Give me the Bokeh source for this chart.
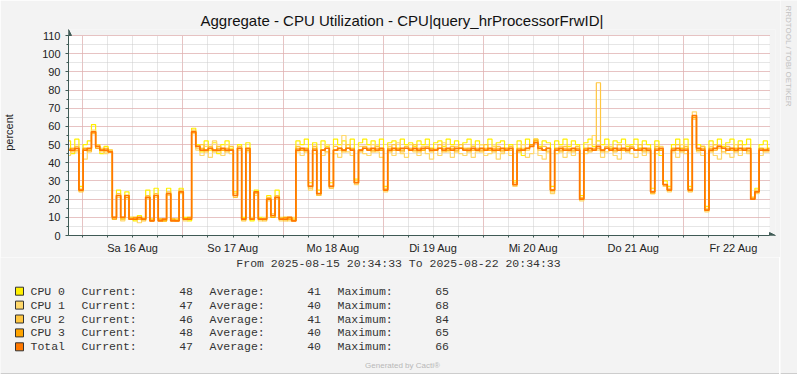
import math
from bokeh.plotting import figure
from bokeh.layouts import row, column
from bokeh.models import Range1d, FixedTicker, Arrow, NormalHead, BoxAnnotation, Grid
from bokeh.core.properties import value
from bokeh.embed import file_html
from bokeh.resources import INLINE

# ---------------- data (hourly samples, hour 0 = 2025-08-15 20:34:33) ----------------
hours = list(range(169))

cpu0 = [
    52, 45, 53, 27, 50, 52, 61, 50, 45, 49, 47, 10, 25, 9, 24, 10, 8, 11, 9, 25, 9, 26, 9, 8,
    26, 9, 9, 26, 10, 8, 59, 50, 46, 52, 47, 51, 45, 50, 52, 48, 24, 50, 10, 51, 8, 25, 10, 9,
    22, 10, 25, 9, 10, 9, 9, 52, 50, 53, 29, 51, 25, 52, 49, 29, 53, 50, 52, 48, 53, 31, 51, 53,
    50, 52, 49, 53, 27, 51, 52, 48, 53, 50, 51, 49, 52, 50, 53, 48, 51, 52, 49, 53, 50, 52, 48, 51,
    53, 49, 52, 50, 47, 53, 49, 51, 52, 48, 50, 30, 52, 44, 53, 50, 53, 49, 52, 51, 27, 52, 50, 53,
    49, 52, 50, 22, 51, 53, 49, 52, 50, 53, 48, 52, 51, 53, 49, 50, 53, 48, 52, 50, 26, 52, 44, 30,
    27, 50, 53, 48, 53, 27, 65, 50, 49, 16, 52, 50, 53, 49, 51, 53, 48, 52, 50, 53, 21, 26, 50, 52,
    48]

cpu1 = [
    44, 48, 46, 26, 42, 47, 58, 48, 46, 45, 47, 9, 21, 8, 20, 9, 10, 7, 10, 20, 8, 21, 9, 8,
    22, 9, 8, 23, 8, 10, 56, 47, 44, 49, 43, 52, 46, 44, 50, 45, 23, 47, 9, 46, 10, 22, 8, 10,
    19, 12, 20, 8, 9, 8, 10, 46, 44, 48, 25, 45, 22, 44, 50, 26, 45, 43, 55, 46, 44, 28, 49, 45,
    44, 50, 46, 43, 24, 49, 44, 51, 45, 43, 50, 46, 44, 49, 45, 42, 48, 44, 51, 46, 43, 49, 45, 44,
    48, 43, 46, 50, 44, 45, 49, 42, 45, 48, 44, 27, 46, 50, 43, 45, 52, 44, 42, 47, 23, 45, 49, 43,
    46, 44, 48, 19, 45, 50, 55, 47, 43, 46, 49, 44, 42, 47, 50, 45, 43, 48, 44, 46, 23, 45, 49, 27,
    24, 46, 43, 50, 45, 26, 68, 46, 44, 13, 49, 44, 42, 48, 45, 43, 50, 44, 47, 45, 21, 23, 44, 48,
    47]

cpu2 = [
    48, 46, 49, 24, 48, 46, 56, 50, 48, 46, 47, 10, 23, 9, 22, 10, 9, 9, 8, 22, 9, 23, 8, 9,
    24, 8, 9, 25, 9, 9, 58, 48, 50, 46, 49, 46, 49, 47, 46, 49, 21, 49, 8, 47, 9, 23, 9, 8,
    21, 11, 22, 10, 8, 10, 9, 49, 47, 46, 26, 49, 22, 47, 46, 26, 49, 47, 46, 50, 47, 30, 46, 49,
    47, 46, 49, 47, 26, 46, 50, 47, 46, 49, 47, 50, 46, 47, 49, 46, 47, 50, 46, 47, 49, 46, 50, 47,
    46, 49, 47, 46, 50, 47, 46, 49, 46, 47, 49, 29, 46, 48, 47, 50, 53, 47, 49, 46, 24, 48, 46, 49,
    47, 46, 49, 21, 48, 46, 47, 84, 46, 49, 47, 46, 50, 47, 46, 49, 47, 50, 46, 48, 23, 49, 47, 28,
    26, 48, 50, 46, 49, 24, 64, 47, 49, 15, 46, 50, 48, 46, 49, 47, 46, 50, 48, 46, 21, 25, 48, 46,
    46]

cpu3 = [
    47, 48, 47, 25, 48, 47, 57, 48, 47, 48, 46, 9, 22, 10, 21, 9, 10, 9, 9, 21, 8, 22, 9, 8,
    23, 9, 8, 24, 9, 10, 57, 49, 48, 47, 48, 47, 48, 47, 48, 47, 22, 48, 9, 47, 9, 24, 9, 9,
    20, 10, 21, 9, 10, 9, 8, 48, 47, 48, 27, 48, 23, 47, 48, 27, 47, 48, 47, 48, 48, 29, 47, 48,
    48, 47, 48, 47, 25, 48, 47, 48, 47, 48, 48, 47, 48, 47, 48, 48, 47, 48, 48, 47, 48, 47, 48, 48,
    48, 47, 48, 47, 48, 47, 48, 48, 47, 48, 47, 28, 48, 47, 48, 50, 52, 48, 47, 48, 25, 48, 47, 48,
    48, 47, 48, 20, 48, 47, 48, 48, 47, 48, 48, 47, 48, 47, 48, 48, 47, 48, 47, 48, 24, 48, 47, 28,
    25, 48, 47, 48, 48, 25, 65, 47, 48, 14, 48, 47, 49, 48, 48, 47, 48, 47, 48, 47, 20, 24, 48, 47,
    48]

total = [
    47, 47, 48, 25, 47, 48, 57, 49, 47, 47, 46, 10, 22, 10, 22, 9, 9, 10, 9, 21, 8, 22, 8, 9,
    23, 8, 8, 24, 9, 9, 57, 49, 47, 47, 48, 47, 47, 48, 47, 47, 22, 48, 9, 48, 9, 24, 9, 9,
    20, 11, 21, 9, 9, 10, 8, 47, 48, 47, 27, 47, 23, 47, 48, 27, 47, 48, 47, 48, 47, 29, 47, 48,
    47, 48, 47, 48, 25, 47, 48, 47, 48, 48, 47, 48, 47, 48, 48, 47, 47, 48, 47, 48, 47, 48, 48, 47,
    47, 48, 47, 48, 47, 48, 47, 47, 48, 47, 48, 28, 47, 47, 48, 49, 51, 48, 47, 48, 25, 47, 48, 47,
    47, 48, 47, 20, 47, 48, 47, 49, 47, 48, 47, 48, 47, 48, 47, 48, 47, 47, 48, 47, 24, 47, 48, 28,
    25, 47, 48, 47, 47, 25, 66, 48, 47, 14, 47, 48, 49, 48, 47, 48, 47, 48, 47, 48, 20, 24, 47, 47,
    47]

series_names = ["CPU 0", "CPU 1", "CPU 2", "CPU 3", "Total"]
series_colors = ["#FFF000", "#FFD86B", "#FFC640", "#FFA400", "#FF7800"]
current_vals = [48, 47, 46, 48, 47]
average_vals = [41, 40, 41, 40, 40]
maximum_vals = [65, 68, 84, 65, 66]

y_ticks = list(range(0, 111, 10))
y_minor = list(range(0, 111, 5))
day_labels = ["Sa 16 Aug", "So 17 Aug", "Mo 18 Aug", "Di 19 Aug", "Mi 20 Aug", "Do 21 Aug", "Fr 22 Aug"]
first_midnight = 3 + 25 / 60 + 27 / 3600  # hours from start to 16 Aug 00:00
midnights = [first_midnight + 24 * k for k in range(7)]
six_hours = [first_midnight + 6 * k for k in range(28)]
noons = [first_midnight + 12 + 24 * k for k in range(7)]

title_text = "Aggregate - CPU Utilization - CPU|query_hrProcessorFrwID|"
footer_text = "From 2025-08-15 20:34:33 To 2025-08-22 20:34:33"
side_text = "RRDTOOL / TOBI OETIKER"
credit_text = "Generated by Cacti\u00ae"

# ---------------- styling ----------------
AX = "#3f5a55"
BG = "#f3f3f3"
SANS = "Liberation Sans"
MONO = "Liberation Mono"
TXT = "#333333"

W_MAIN = 779
H_CHART = 257
W_SIDE = 797 - W_MAIN
H_ALL = 374

X_END, Y_END = 168, 110
EXT_R, EXT_T = 6, 6            # room for the axis arrow heads (px)
FW, FH = 701 + EXT_R, 200 + EXT_T

# ---------------- chart ----------------
p = figure(frame_width=FW, frame_height=FH,
           min_border_left=67, min_border_right=W_MAIN - 67 - FW, min_border_top=35 - EXT_T,
           min_border_bottom=H_CHART - 235,
           x_range=Range1d(0, X_END * FW / 701), y_range=Range1d(0, Y_END * FH / 200),
           output_backend="svg", toolbar_location=None,
           background_fill_color=BG, border_fill_color=BG,
           outline_line_color=None)

p.add_layout(BoxAnnotation(left=0, right=X_END, bottom=0, top=Y_END,
                           fill_color="white", fill_alpha=1.0, line_color=None, level="image"))

p.title.text = title_text
p.title.align = "left"
p.title.offset = 199 - 67
p.title.standoff = 1
p.title.text_font = SANS
p.title.text_font_size = "15px"
p.title.text_font_style = "normal"
p.title.text_color = "#111111"

p.xgrid.ticker = FixedTicker(ticks=midnights, minor_ticks=six_hours)
p.ygrid.ticker = FixedTicker(ticks=y_ticks, minor_ticks=y_minor)
grid_props = Grid.properties()
for g in (p.xgrid, p.ygrid):
    g.grid_line_color = "#e8a0a0"
    g.grid_line_dash = "1 1"
    g.grid_line_width = 1
    g.minor_grid_line_color = "#cccccc"
    g.minor_grid_line_dash = "1 1"
if "cross_bounds" in grid_props:
    p.xgrid.cross_bounds = (0, Y_END)
    p.ygrid.cross_bounds = (0, X_END)
p.xgrid.bounds = (0, X_END)
p.ygrid.bounds = (0, Y_END)

p.yaxis.ticker = FixedTicker(ticks=y_ticks, minor_ticks=y_minor)
p.xaxis.ticker = FixedTicker(ticks=noons, minor_ticks=six_hours)
p.xaxis.major_label_overrides = {t: lab for t, lab in zip(noons, day_labels)}
p.xaxis.bounds = (0, X_END)
p.yaxis.bounds = (0, Y_END)
for ax in (p.xaxis, p.yaxis):
    ax.axis_line_color = AX
    ax.axis_line_width = 1
    ax.major_label_text_font = SANS
    ax.major_label_text_font_size = "11px"
    ax.major_label_text_color = "#222222"
    ax.minor_tick_line_color = AX
    ax.minor_tick_in = 0
    ax.minor_tick_out = 2
p.yaxis.major_tick_line_color = AX
p.yaxis.major_tick_in = 0
p.yaxis.major_tick_out = 3
p.yaxis.major_label_standoff = 5
p.yaxis.axis_label = "percent"
p.yaxis.axis_label_text_font = SANS
p.yaxis.axis_label_text_font_size = "11px"
p.yaxis.axis_label_text_font_style = "normal"
p.yaxis.axis_label_text_color = "#222222"
p.yaxis.axis_label_standoff = 24
p.xaxis.major_tick_line_color = None
p.xaxis.major_tick_out = 0
p.xaxis.major_tick_in = 0
p.xaxis.major_label_standoff = 4

for ys, c, w in zip([cpu0, cpu1, cpu2, cpu3, total], series_colors, [1.2, 1.2, 1.2, 1.2, 1.7]):
    p.step(hours, ys, line_color=c, line_width=w, mode="center")

p.add_layout(Arrow(end=NormalHead(size=6, fill_color=AX, line_color=AX),
                   x_start=0, y_start=Y_END, x_end=0, y_end=Y_END * FH / 200,
                   line_color=AX, line_width=1))
p.add_layout(Arrow(end=NormalHead(size=6, fill_color=AX, line_color=AX),
                   x_start=X_END, y_start=0, x_end=X_END * FW / 701, y_end=0,
                   line_color=AX, line_width=1))

# ---------------- footer (legend area), page pixel coordinates ----------------
f = figure(frame_width=W_MAIN, frame_height=H_ALL - H_CHART,
           min_border=0, x_range=Range1d(0, W_MAIN), y_range=Range1d(H_ALL, H_CHART),
           x_axis_type=None, y_axis_type=None,
           output_backend="svg", toolbar_location=None,
           background_fill_color=BG, border_fill_color=BG, outline_line_color=None)
f.xgrid.visible = False
f.ygrid.visible = False

f.text(x=[398], y=[263], text=[footer_text], text_font=value(MONO),
       text_font_size=value("11.5px"), text_color=TXT, text_align="center",
       text_baseline="middle")
f.text(x=[402], y=[365], text=[credit_text], text_font=value(SANS),
       text_font_size=value("8px"), text_color="#b8b8b8", text_align="center",
       text_baseline="middle")

row_y = [290.7, 304.6, 318.5, 332.4, 346.3]
f.quad(left=[15] * 5, right=[23] * 5, top=[y - 4 for y in row_y], bottom=[y + 4 for y in row_y],
       fill_color=series_colors, line_color="#333333", line_width=1)

left_x, left_t, left_y = [], [], []
right_x, right_t, right_y = [], [], []
for i, name in enumerate(series_names):
    y = row_y[i]
    for xx, tt in ((30, name), (81, "Current:"), (209, "Average:"), (337, "Maximum:")):
        left_x.append(xx); left_t.append(tt); left_y.append(y)
    for xx, vv in ((192.5, current_vals[i]), (320.5, average_vals[i]), (448.5, maximum_vals[i])):
        right_x.append(xx); right_t.append(str(vv)); right_y.append(y)

f.text(x=left_x, y=left_y, text=left_t, text_font=value(MONO), text_font_size=value("11.5px"),
       text_color=TXT, text_align="left", text_baseline="middle")
f.text(x=right_x, y=right_y, text=right_t, text_font=value(MONO), text_font_size=value("11.5px"),
       text_color=TXT, text_align="right", text_baseline="middle")

f.segment(x0=[0], y0=[H_ALL - 0.5], x1=[W_MAIN], y1=[H_ALL - 0.5],
          line_color="#a6a6a6", line_width=1)

# ---------------- right strip with vertical credit ----------------
s = figure(frame_width=W_SIDE, frame_height=H_ALL, min_border=0,
           x_range=Range1d(W_MAIN, 797), y_range=Range1d(H_ALL, 0),
           x_axis_type=None, y_axis_type=None,
           output_backend="svg", toolbar_location=None,
           background_fill_color=BG, border_fill_color=BG, outline_line_color=None)
s.xgrid.visible = False
s.ygrid.visible = False
s.text(x=[787], y=[5], text=[side_text], text_font=value(SANS), text_font_size=value("8px"),
       text_color="#c2c2c2", text_align="left", text_baseline="middle", angle=-math.pi / 2)
s.segment(x0=[796.5, W_MAIN], y0=[0, H_ALL - 0.5], x1=[796.5, 797],
          y1=[H_ALL, H_ALL - 0.5], line_color="#a6a6a6", line_width=1)

layout = row(column(p, row(f, spacing=0), spacing=0), s, spacing=0)
open("out.html", "w").write(file_html(layout, INLINE))
